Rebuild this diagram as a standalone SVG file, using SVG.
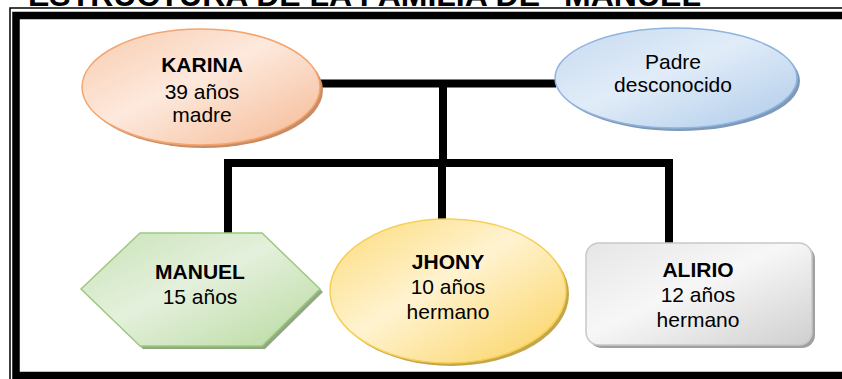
<svg xmlns="http://www.w3.org/2000/svg" width="842" height="379" viewBox="0 0 842 379">
<style>
.lbl{font-family:"Liberation Sans",Arial,sans-serif;font-size:21px;fill:#000;text-anchor:middle}
.b{font-weight:bold}
.title{font-family:"Liberation Sans",Arial,sans-serif;font-size:32px;font-weight:bold;fill:#000}
.conn{stroke:#000;stroke-width:8;fill:none;stroke-linecap:butt}
</style>
<defs>
<linearGradient id="gOr" x1="0" y1="0" x2="1" y2="1">
<stop offset="0" stop-color="#f8cbad"/><stop offset="0.45" stop-color="#fde9dd"/><stop offset="1" stop-color="#f5b993"/>
</linearGradient>
<linearGradient id="gBl" x1="0" y1="0" x2="1" y2="1">
<stop offset="0" stop-color="#c5daf0"/><stop offset="0.45" stop-color="#e1ecf8"/><stop offset="1" stop-color="#aecbea"/>
</linearGradient>
<linearGradient id="gGr" x1="0" y1="0" x2="1" y2="1">
<stop offset="0" stop-color="#c9e3b8"/><stop offset="0.45" stop-color="#e4f0dc"/><stop offset="1" stop-color="#b8da9f"/>
</linearGradient>
<linearGradient id="gYe" x1="0" y1="0" x2="1" y2="1">
<stop offset="0" stop-color="#fcdb79"/><stop offset="0.45" stop-color="#fff3d0"/><stop offset="1" stop-color="#fbd25d"/>
</linearGradient>
<linearGradient id="gGy" x1="0" y1="0" x2="1" y2="1">
<stop offset="0" stop-color="#e6e6e6"/><stop offset="0.45" stop-color="#f7f7f7"/><stop offset="1" stop-color="#cfcfcf"/>
</linearGradient>
</defs>
<rect width="842" height="379" fill="#fff"/>
<text class="title" x="28" y="6">ESTRUCTURA DE LA FAMILIA DE "MANUEL"</text>
<rect x="10" y="8" width="900" height="400" fill="none" stroke="#000" stroke-width="1.5"/>
<rect x="16" y="15.5" width="900" height="360" fill="none" stroke="#000" stroke-width="7.5"/>
<g id="connectors">
<line class="conn" x1="320" y1="83.5" x2="556" y2="83.5"/>
<line class="conn" x1="443" y1="83.5" x2="443" y2="163"/>
<line class="conn" x1="224" y1="163" x2="673" y2="163"/>
<line class="conn" x1="228" y1="159" x2="228" y2="233"/>
<line class="conn" x1="442" y1="163" x2="442" y2="220"/>
<line class="conn" x1="669" y1="159" x2="669" y2="243"/>
</g>
<g id="karina">
<ellipse cx="204" cy="90" rx="119" ry="58" fill="#c98d66"/>
<ellipse cx="201" cy="87" rx="119" ry="58" fill="url(#gOr)" stroke="#f4a56f" stroke-width="1.5"/>
<text class="lbl b" x="202" y="72">KARINA</text>
<text class="lbl" x="202" y="99">39 años</text>
<text class="lbl" x="202" y="122">madre</text>
</g>
<g id="padre">
<ellipse cx="679" cy="81" rx="121" ry="50" fill="#7f9ab8"/>
<ellipse cx="676" cy="78" rx="121" ry="50" fill="url(#gBl)" stroke="#8fb4e0" stroke-width="1.5"/>
<text class="lbl" x="673" y="69">Padre</text>
<text class="lbl" x="673" y="92">desconocido</text>
</g>
<g id="manuel">
<polygon points="143,236 265,236 323,292 265,349 143,349 84,292" fill="#92a884"/>
<polygon points="140,233 262,233 320,289 262,346 140,346 81,289" fill="url(#gGr)" stroke="#9cca7e" stroke-width="1.5"/>
<text class="lbl b" x="200" y="279">MANUEL</text>
<text class="lbl" x="200" y="304">15 años</text>
</g>
<g id="jhony">
<ellipse cx="451" cy="294" rx="118" ry="72" fill="#c4a64a"/>
<ellipse cx="448" cy="291" rx="118" ry="72" fill="url(#gYe)" stroke="#f6cf55" stroke-width="1.5"/>
<text class="lbl b" x="448" y="269">JHONY</text>
<text class="lbl" x="448" y="294">10 años</text>
<text class="lbl" x="448" y="319">hermano</text>
</g>
<g id="alirio">
<rect x="589" y="246" width="226" height="102" rx="13" fill="#a0a0a0"/>
<rect x="586" y="243" width="226" height="102" rx="13" fill="url(#gGy)" stroke="#c8c8c8" stroke-width="1.5"/>
<text class="lbl b" x="698" y="277">ALIRIO</text>
<text class="lbl" x="698" y="302">12 años</text>
<text class="lbl" x="698" y="327">hermano</text>
</g>
</svg>
